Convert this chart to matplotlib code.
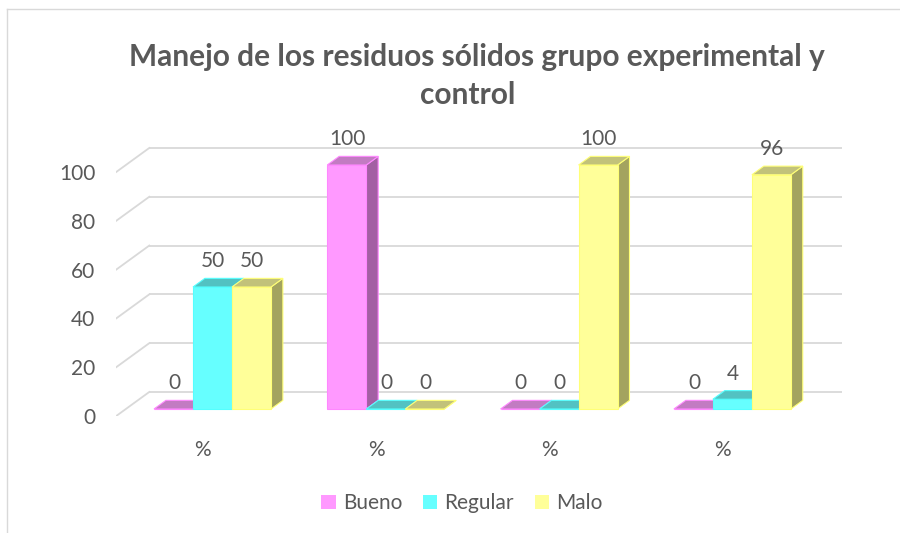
import matplotlib
matplotlib.use("Agg")
import matplotlib.pyplot as plt
from matplotlib.patches import Patch
from matplotlib.lines import Line2D

# data
categories = ["%", "%", "%", "%"]
series = ["Bueno", "Regular", "Malo"]
bueno = [0, 100, 0, 0]
regular = [50, 0, 0, 4]
malo = [50, 0, 100, 96]
y_ticks = [0, 20, 40, 60, 80, 100]
title_lines = ["Manejo de los residuos sólidos grupo experimental y", "control"]

# face / top / side colours per series
FRONT = ["#FF99FF", "#66FFFF", "#FFFF99"]
TOP = ["#C27BC2", "#52C2C2", "#C2C27A"]
SIDE = ["#A35FA3", "#4A9F9F", "#A3A35F"]
EDGE = ["#FF88FF", "#55FFFF", "#FFFF77"]
GRID = "#D9D9D9"
TXT = "#595959"
FS = 15

plt.rcParams["font.family"] = ["Lato", "DejaVu Sans"]

W, H = 900, 533
# pixel mapping of the front plane of the bars
PX0, PXU = 212.5, 173.3      # px of category 0 centre, px per category
PY0, PYU = 409.0, 2.44       # px of value 0, px per value unit
# oblique depth: px per unit of depth
DXD = 33.0 / PXU
DYD = 24.0 / PYU
T_FRONT, T_BAR, T_BACK = -0.29, 0.36, 0.71
BW = 39.0 / PXU

fig = plt.figure(figsize=(W / 100, H / 100), dpi=100)

# axes box in pixels
ax_l, ax_r, ax_b, ax_t = 116.0, 843.0, 416.0, 120.0
ax = fig.add_axes([ax_l / W, 1 - ax_b / H, (ax_r - ax_l) / W, (ax_b - ax_t) / H])
ax.set_xlim((ax_l - PX0) / PXU, (ax_r - PX0) / PXU)
ax.set_ylim((PY0 - ax_b) / PYU, (PY0 - ax_t) / PYU)
for s in ax.spines.values():
    s.set_visible(False)

# walls: back gridlines + left wall diagonals
x0, x1 = -0.5, len(categories) - 0.5
for v in y_ticks:
    ax.plot([x0 + T_BACK * DXD, x1 + T_BACK * DXD], [v + T_BACK * DYD] * 2,
            color=GRID, lw=1.3, zorder=1, solid_capstyle="butt")
    ax.plot([x0 + T_FRONT * DXD, x0 + T_BACK * DXD],
            [v + T_FRONT * DYD, v + T_BACK * DYD], color=GRID, lw=1.3, zorder=1)

# 3d-looking bars, drawn left to right
dx, dy = T_BAR * DXD, T_BAR * DYD
z = 2
for i in range(len(categories)):
    for j, vals in enumerate([bueno, regular, malo]):
        v = vals[i]
        xl = i - 1.5 * BW + j * BW
        xr = xl + BW
        ax.fill([xr, xr + dx, xr + dx, xr], [0, dy, v + dy, v],
                color=SIDE[j], ec=EDGE[j], lw=0.8, zorder=z)
        ax.bar(xl, v, width=BW, align="edge", color=FRONT[j], ec=EDGE[j], lw=0.8, zorder=z + 1)
        ax.fill([xl, xr, xr + dx, xl + dx], [v, v, v + dy, v + dy],
                color=TOP[j], ec=EDGE[j], lw=0.8, zorder=z + 2)
        ax.annotate(str(v), (xl + BW / 2, v), xytext=(0.5, 18.5), textcoords="offset points",
                    ha="center", va="center", fontsize=FS, color=TXT, zorder=50)
        z += 3

ax.set_yticks([v + T_FRONT * DYD for v in y_ticks])
ax.set_yticklabels([str(v) for v in y_ticks])
ax.set_xticks([i + T_FRONT * DXD for i in range(len(categories))])
ax.set_xticklabels(categories)
ax.tick_params(axis="y", length=0, pad=15, labelsize=FS, labelcolor=TXT)
ax.tick_params(axis="x", length=0, pad=17, labelsize=FS, labelcolor=TXT)

# title
fig.text(477 / W, 1 - 66 / H, title_lines[0], ha="center", va="baseline",
         fontsize=21.5, fontweight="bold", color=TXT)
fig.text(468 / W, 1 - 104 / H, title_lines[1], ha="center", va="baseline",
         fontsize=21.5, fontweight="bold", color=TXT)

# legend
handles = [Patch(facecolor=FRONT[k], edgecolor="none") for k in range(3)]
fig.legend(handles, series, loc="center", bbox_to_anchor=(462 / W, 1 - 503 / H), ncol=3,
           frameon=False, fontsize=FS, labelcolor=TXT, handlelength=0.68, handleheight=0.68,
           handletextpad=0.35, columnspacing=1.0)

# chart area border (left and top edges visible in the crop)
fig.add_artist(Line2D([7 / W, 7 / W], [0, 1 - 9 / H], color=GRID, lw=1))
fig.add_artist(Line2D([7 / W, 1], [1 - 9 / H, 1 - 9 / H], color=GRID, lw=1))

fig.savefig("out.png", dpi=100)
